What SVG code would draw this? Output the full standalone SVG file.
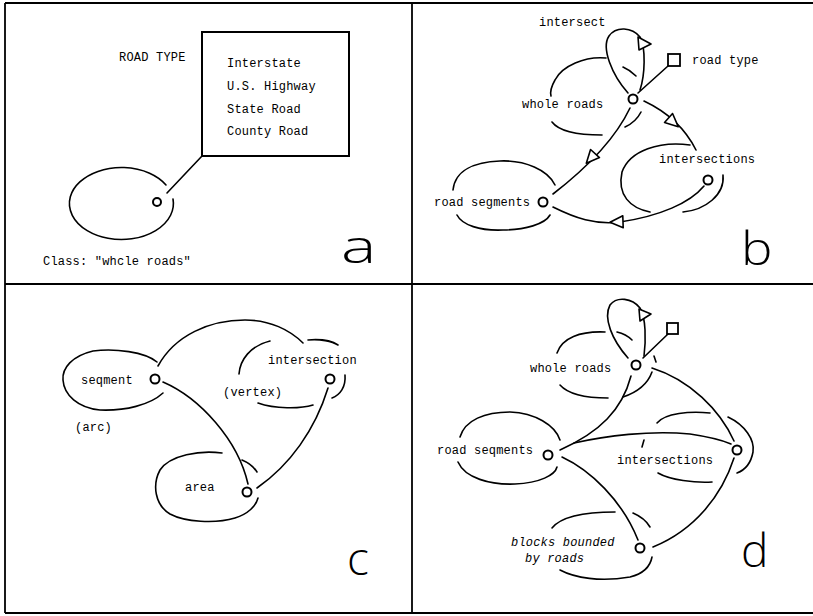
<svg xmlns="http://www.w3.org/2000/svg" width="813" height="616" viewBox="0 0 813 616">
  <style>
    .frame { stroke: #000; stroke-width: 1.8; fill: none; }
    .ln { stroke: #000; stroke-width: 1.6; fill: none; stroke-linecap: round; }
    .node { stroke: #000; stroke-width: 2; fill: #fff; }
    .sq { stroke: #000; stroke-width: 1.8; fill: #fff; }
    .arr { stroke: #000; stroke-width: 1.6; fill: #fff; stroke-linejoin: round; }
    .t { font-family: "Liberation Mono", "DejaVu Sans Mono", monospace; font-size: 12px; fill: #000; letter-spacing: 0.2px; }
    .it { font-style: italic; }
    .big { font-family: "Open Sans", "Lato", "DejaVu Sans", sans-serif; font-weight: 300; font-size: 46px; fill: #000; }
  </style>
  <defs>
    <path id="tri" d="M 7,0 L -6,-6 L -6,6 Z"/>
  </defs>
  <rect width="813" height="616" fill="#fff"/>

  <!-- panel frame -->
  <g id="frame">
    <line class="frame" x1="5" y1="3" x2="813" y2="3"/>
    <line class="frame" x1="5" y1="3" x2="5" y2="613"/>
    <line class="frame" x1="5" y1="284" x2="813" y2="284"/>
    <line class="frame" x1="412" y1="3" x2="412" y2="613"/>
    <line class="frame" x1="5" y1="613" x2="813" y2="613" stroke="#555"/>
  </g>

  <!-- ===== panel a ===== -->
  <g id="a-label"><text class="big" transform="translate(341,263) scale(1.45,1)">a</text></g>
  <g id="a-roadtype">
    <text class="t" x="119" y="61">ROAD TYPE</text>
    <rect x="202" y="32" width="147" height="124" fill="none" stroke="#000" stroke-width="2"/>
    <text class="t" x="227" y="67">Interstate</text>
    <text class="t" x="227" y="90">U.S. Highway</text>
    <text class="t" x="227" y="113">State Road</text>
    <text class="t" x="227" y="135">County Road</text>
  </g>
  <g id="a-wholeroads">
    <path class="ln" d="M 166,185 A 52 36 0 1 0 173,199"/>
    <circle class="node" cx="157" cy="202" r="4"/>
    <text class="t" x="43" y="265">Class: "whcle roads"</text>
  </g>
  <g id="a-connectors">
    <line class="ln" x1="167" y1="193" x2="202" y2="156"/>
  </g>

  <!-- ===== panel b ===== -->
  <g id="b-label"><text class="big" transform="translate(741,265) scale(1.15,1)">b</text></g>
  <g id="b-wholeroads">
    <path class="ln" d="M 606,58 C 585,56 562,66 555,80 C 551,87 550,92 551,96"/>
    <path class="ln" d="M 552,122 C 558,130 575,135 602,135"/>
    <path class="ln" d="M 623,67 Q 630,70 636,76"/>
    <path class="ln" d="M 625,127 Q 636,122 641,112"/>
    <circle class="node" cx="633" cy="99" r="4.5"/>
    <text class="t" x="522" y="108">whole roads</text>
  </g>
  <g id="b-roadtype">
    <rect class="sq" x="668" y="54" width="12" height="12"/>
    <text class="t" x="692" y="64">road type</text>
  </g>
  <g id="b-roadsegments">
    <path class="ln" d="M 453,190 C 455,170 475,162 500,161 C 525,160 548,170 555,185"/>
    <path class="ln" d="M 457,215 C 462,225 480,231 503,230 C 525,230 545,224 550,215"/>
    <circle class="node" cx="543" cy="202" r="4.5"/>
    <text class="t" x="434" y="206">road segments</text>
  </g>
  <g id="b-intersections">
    <path class="ln" d="M 690,145 C 660,141 630,150 622,172 C 617,195 630,208 650,212"/>
    <path class="ln" d="M 723,175 C 725,195 705,210 683,212"/>
    <circle class="node" cx="708" cy="180" r="4.5"/>
    <text class="t" x="659" y="163">intersections</text>
  </g>
  <g id="b-connectors">
    <text class="t" x="539" y="26">intersect</text>
    <path class="ln" d="M 628,93 C 612,75 601,48 609,36 C 616,26 632,27 640,37 C 646,48 645,75 640,90"/>
    <polygon class="arr" points="638,37 651,44 639,50"/>
    <line class="ln" x1="638" y1="93" x2="668" y2="66"/>
    <path class="ln" d="M 630,108 Q 610,150 553,194"/>
    <use href="#tri" class="arr" transform="translate(591,158) rotate(132)"/>
    <path class="ln" d="M 644,101 Q 680,118 696,150"/>
    <use href="#tri" class="arr" transform="translate(673,122) rotate(42)"/>
    <path class="ln" d="M 704,186 C 690,203 660,216 620,222 C 595,225 575,218 553,207"/>
    <use href="#tri" class="arr" transform="translate(617,222) rotate(178)"/>
  </g>

  <!-- ===== panel c ===== -->
  <g id="c-label"><text class="big" x="347" y="575">c</text></g>
  <g id="c-segment">
    <path class="ln" d="M 157,362 C 145,352 115,348 93,351 C 72,356 62,368 63,380 C 64,395 78,408 100,410 C 125,411 150,405 163,393"/>
    <circle class="node" cx="155" cy="379" r="4.5"/>
    <text class="t" x="81" y="384">seqment</text>
    <text class="t" x="75" y="431">(arc)</text>
  </g>
  <g id="c-intersection">
    <path class="ln" d="M 239,374 C 240,360 250,346 270,341"/>
    <path class="ln" d="M 308,340 C 320,339 332,341 338,345"/>
    <path class="ln" d="M 345,375 C 346,387 340,395 332,398"/>
    <path class="ln" d="M 258,403 C 275,409 300,409 313,405"/>
    <circle class="node" cx="330" cy="379" r="4.5"/>
    <text class="t" x="268" y="364">intersection</text>
    <text class="t" x="223" y="396">(vertex)</text>
  </g>
  <g id="c-area">
    <path class="ln" d="M 222,453 C 200,450 170,455 160,470 C 152,485 155,505 170,514 C 185,522 215,524 235,518 C 248,514 256,506 258,498"/>
    <path class="ln" d="M 242,460 Q 252,464 257,472"/>
    <circle class="node" cx="247" cy="492" r="4.5"/>
    <text class="t" x="185" y="491">area</text>
  </g>
  <g id="c-connectors">
    <path class="ln" d="M 158,366 C 175,335 210,320 245,320 C 270,320 290,330 303,343"/>
    <path class="ln" d="M 163,382 C 200,398 238,440 248,484"/>
    <path class="ln" d="M 328,388 C 315,430 290,465 257,488"/>
  </g>

  <!-- ===== panel d ===== -->
  <g id="d-label"><text class="big" x="741" y="567">d</text></g>
  <g id="d-wholeroads">
    <path class="ln" d="M 557,353 C 562,338 580,331 605,332"/>
    <path class="ln" d="M 560,385 C 568,394 585,398 608,398"/>
    <path class="ln" d="M 617,332 Q 626,334 632,340"/>
    <path class="ln" d="M 623,397 C 638,392 648,383 652,372"/>
    <path class="ln" d="M 654,356 L 656,362"/>
    <circle class="node" cx="636" cy="365" r="4.5"/>
    <text class="t" x="530" y="372">whole roads</text>
  </g>
  <g id="d-roadtype">
    <rect class="sq" x="667" y="323" width="11" height="11"/>
  </g>
  <g id="d-roadsegments">
    <path class="ln" d="M 460,437 C 465,420 485,412 510,412 C 535,413 555,425 560,440"/>
    <path class="ln" d="M 458,462 C 465,478 490,485 515,484 C 540,483 555,475 557,467"/>
    <circle class="node" cx="548" cy="455" r="4.5"/>
    <text class="t" x="437" y="454">road seqments</text>
  </g>
  <g id="d-intersections">
    <path class="ln" d="M 657,423 C 665,413 690,411 710,413"/>
    <path class="ln" d="M 728,417 C 745,425 755,440 753,452 C 751,463 745,470 737,473"/>
    <path class="ln" d="M 658,473 C 670,480 695,483 712,482"/>
    <circle class="node" cx="737" cy="450" r="4.5"/>
    <text class="t" x="617" y="464">intersections</text>
  </g>
  <g id="d-blocks">
    <path class="ln" d="M 552,528 C 560,518 580,512 615,512"/>
    <path class="ln" d="M 633,513 C 640,516 646,520 650,527"/>
    <path class="ln" d="M 560,570 C 575,578 600,582 630,577 C 642,574 650,568 652,557"/>
    <circle class="node" cx="640" cy="548" r="4.5"/>
    <text class="t it" x="511" y="546">blocks bounded</text>
    <text class="t it" x="525" y="562">by roads</text>
  </g>
  <g id="d-connectors">
    <path class="ln" d="M 628,358 C 612,340 603,318 610,305 C 617,296 632,298 640,308 C 646,318 646,340 644,356"/>
    <polygon class="arr" points="639,309 651,314 640,321"/>
    <line class="ln" x1="643" y1="358" x2="668" y2="334"/>
    <path class="ln" d="M 652,368 C 690,380 720,410 734,441"/>
    <path class="ln" d="M 631,376 C 622,410 600,432 560,450"/>
    <path class="ln" d="M 574,443 C 605,436 650,430 690,434 C 710,437 722,440 731,444"/>
    <path class="ln" d="M 644,440 L 642,447"/>
    <path class="ln" d="M 734,458 C 722,495 695,530 653,547"/>
    <path class="ln" d="M 562,457 C 590,470 622,500 638,540"/>
  </g>
</svg>
